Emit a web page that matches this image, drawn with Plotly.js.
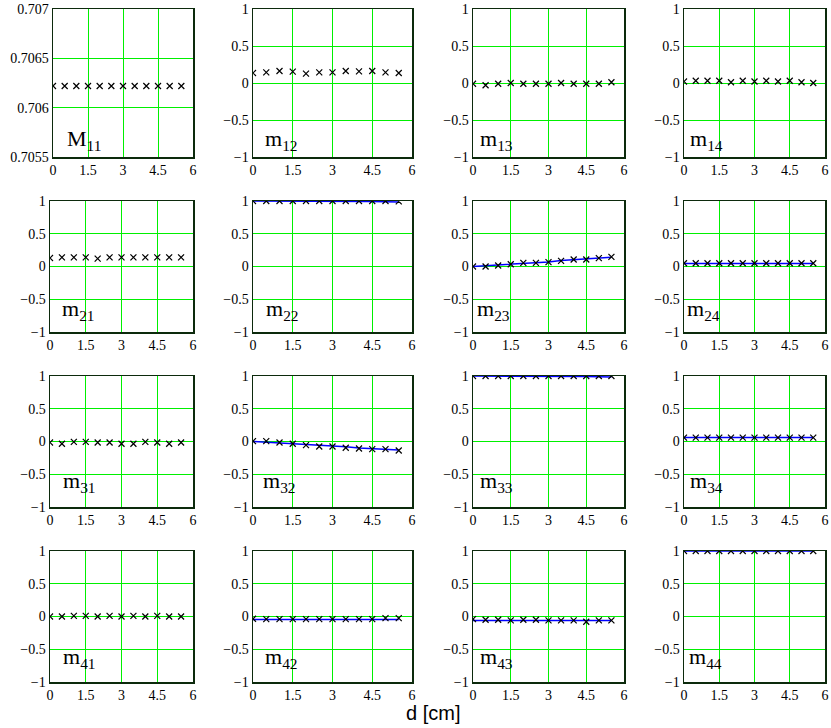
<!DOCTYPE html>
<html>
<head>
<meta charset="utf-8">
<script src="https://cdn.plot.ly/plotly-3.0.1.min.js"></script>
<style>html,body{margin:0;padding:0;background:#fff;}#chart{width:831px;height:728px;}</style>
</head>
<body>
<div id="chart"></div>
<script>
// ---------------- data ----------------
const dCm = [0, 0.5, 1, 1.5, 2, 2.5, 3, 3.5, 4, 4.5, 5, 5.5];

const M11 = [0.70622, 0.70622, 0.70622, 0.70622, 0.70622, 0.70622, 0.70622, 0.70622, 0.70622, 0.70622, 0.70622, 0.70622];
const m12 = [0.135, 0.144, 0.162, 0.153, 0.126, 0.144, 0.144, 0.162, 0.158, 0.162, 0.144, 0.135];
const m13 = [-0.01, -0.03, -0.01, 0.0, -0.01, -0.01, -0.01, 0.0, -0.01, -0.01, -0.01, 0.01];
const m14 = [0.02, 0.03, 0.03, 0.03, 0.01, 0.03, 0.02, 0.03, 0.02, 0.03, 0.01, 0.0];
const m21 = [0.13, 0.14, 0.14, 0.14, 0.12, 0.14, 0.14, 0.14, 0.14, 0.14, 0.14, 0.14];
const m22 = [1.0, 1.0, 1.0, 1.0, 1.0, 1.0, 1.0, 1.0, 1.0, 1.0, 1.0, 0.995];
const m23 = [0.0, 0.0, 0.015, 0.035, 0.056, 0.056, 0.066, 0.086, 0.107, 0.107, 0.127, 0.147];
const m24 = [0.05, 0.05, 0.05, 0.05, 0.05, 0.05, 0.05, 0.05, 0.05, 0.05, 0.05, 0.05];
const m31 = [-0.015, -0.035, -0.005, -0.005, -0.015, -0.015, -0.035, -0.035, -0.005, -0.015, -0.035, -0.015];
const m32 = [0.005, 0.005, -0.015, -0.035, -0.056, -0.076, -0.076, -0.096, -0.107, -0.117, -0.117, -0.137];
const m33 = [1.0, 1.0, 1.0, 1.0, 1.0, 1.0, 1.0, 1.0, 1.0, 1.0, 1.0, 1.0];
const m34 = [0.06, 0.06, 0.06, 0.06, 0.06, 0.06, 0.06, 0.06, 0.06, 0.06, 0.06, 0.06];
const m41 = [0.0, 0.0, 0.01, 0.01, 0.0, 0.01, 0.0, 0.01, 0.0, 0.01, 0.0, 0.0];
const m42 = [-0.035, -0.04, -0.04, -0.04, -0.04, -0.04, -0.04, -0.04, -0.04, -0.04, -0.025, -0.025];
const m43 = [-0.04, -0.05, -0.05, -0.06, -0.05, -0.05, -0.06, -0.06, -0.06, -0.08, -0.06, -0.06];
const m44 = [1.0, 1.0, 1.0, 1.0, 1.0, 1.0, 1.0, 1.0, 1.0, 1.0, 1.0, 1.0];

// model curves (blue lines)
const fit22 = [1.0, 1.0, 1.0, 1.0, 0.999, 0.998, 0.997, 0.995, 0.993, 0.991, 0.988, 0.985];
const fit23 = [0.0, 0.01, 0.02, 0.04, 0.05, 0.06, 0.07, 0.09, 0.10, 0.11, 0.12, 0.14];
const fit24 = [0.045, 0.045, 0.045, 0.045, 0.045, 0.045, 0.045, 0.045, 0.045, 0.045, 0.045, 0.045];
const fit32 = [0.0, -0.01, -0.02, -0.03, -0.05, -0.06, -0.07, -0.08, -0.10, -0.11, -0.12, -0.13];
const fit33 = [1.0, 1.0, 1.0, 1.0, 0.999, 0.998, 0.997, 0.995, 0.993, 0.991, 0.988, 0.985];
const fit34 = [0.06, 0.06, 0.06, 0.06, 0.06, 0.06, 0.06, 0.06, 0.06, 0.06, 0.06, 0.06];
const fit42 = [-0.045, -0.045, -0.045, -0.045, -0.045, -0.045, -0.045, -0.045, -0.045, -0.045, -0.045, -0.045];
const fit43 = [-0.06, -0.06, -0.06, -0.06, -0.06, -0.06, -0.06, -0.06, -0.06, -0.06, -0.06, -0.06];
const fit44 = [1.0, 1.0, 1.0, 1.0, 1.0, 1.0, 1.0, 1.0, 1.0, 1.0, 1.0, 1.0];

const panelNames = ['M11','m12','m13','m14','m21','m22','m23','m24','m31','m32','m33','m34','m41','m42','m43','m44'];
const panelData  = [M11,m12,m13,m14,m21,m22,m23,m24,m31,m32,m33,m34,m41,m42,m43,m44];
const panelFit   = [null,null,null,null,null,fit22,fit23,fit24,null,fit32,fit33,fit34,null,fit42,fit43,fit44];

const xTickVals = [0, 1.5, 3, 4.5, 6];
const xTickText = ['0', '1.5', '3', '4.5', '6'];
const yTickVals = [-1, -0.5, 0, 0.5, 1];
const yTickText = ['\u22121', '\u22120.5', '0', '0.5', '1'];
const y11TickVals = [0.7055, 0.706, 0.7065, 0.707];
const y11TickText = ['0.7055', '0.706', '0.7065', '0.707'];
const xLabel = 'd [cm]';

// ---------------- layout geometry (pixels) ----------------
const W = 831, H = 728;
const cols = [[53,193],[253,412],[473,624],[684,825]];
const colsLow = [[50,193],[253,412],[473,624],[684,825]];
const rows = [[9,157],[201,332],[376,507],[551,682]];
const labelDx = [14,12,7,6, 12,13,4,3, 13,10,7,6, 13,12,7,5];
const labelRise = [10,15,18,17];

const SERIF = '"Liberation Serif", "Times New Roman", serif';
const traces = [];
const layout = {
  width: W, height: H,
  margin: {l:0, r:0, t:0, b:0},
  paper_bgcolor: '#ffffff',
  plot_bgcolor: '#ffffff',
  showlegend: false,
  font: {family: SERIF, size: 13, color: '#000'},
  annotations: []
};

const tickFont = {family: SERIF, size: 14, color: '#000'};

for (let i = 0; i < 16; i++) {
  const r = Math.floor(i / 4), c = i % 4;
  const [l, rt] = (r === 0 ? cols : colsLow)[c];
  const [t, b] = rows[r];
  const sfx = i === 0 ? '' : String(i + 1);
  const xa = 'x' + sfx, ya = 'y' + sfx;
  layout['xaxis' + sfx] = {
    domain: [l / W, rt / W], anchor: ya, range: [0, 6],
    tickmode: 'array', tickvals: xTickVals, ticktext: xTickText,
    showgrid: true, gridcolor: '#00f000', gridwidth: 1, zeroline: false,
    showline: true, mirror: true, linecolor: '#0c2a0c', linewidth: 1.5,
    ticks: '', tickfont: tickFont, fixedrange: true
  };
  layout['yaxis' + sfx] = {
    domain: [1 - b / H, 1 - t / H], anchor: xa,
    range: i === 0 ? [0.7055, 0.707] : [-1, 1],
    tickmode: 'array',
    tickvals: i === 0 ? y11TickVals : yTickVals,
    ticktext: i === 0 ? y11TickText : yTickText,
    showgrid: true, gridcolor: '#00f000', gridwidth: 1, zeroline: false,
    showline: true, mirror: true, linecolor: '#0c2a0c', linewidth: 1.5,
    ticks: '', tickfont: tickFont, fixedrange: true
  };
  if (panelFit[i]) {
    traces.push({x: dCm, y: panelFit[i], xaxis: xa, yaxis: ya, type: 'scatter', mode: 'lines',
      line: {color: '#0000ff', width: 1.5}, hoverinfo: 'skip'});
  }
  traces.push({x: dCm, y: panelData[i], xaxis: xa, yaxis: ya, type: 'scatter', mode: 'markers',
    marker: {symbol: 'x-thin', size: 6, color: '#000', line: {color: '#000', width: 1.2}}});

  const name = panelNames[i];
  layout.annotations.push({
    xref: 'paper', yref: 'paper',
    x: (l + labelDx[i] - 2) / W, xanchor: 'left',
    y: 1 - (b - labelRise[r] + 9) / H, yanchor: 'bottom',
    text: name[0] + '<sub>' + name.slice(1) + '</sub>',
    showarrow: false,
    font: {family: SERIF, size: 22, color: '#000'}
  });
}

layout.annotations.push({
  xref: 'paper', yref: 'paper', x: 433 / W, y: 1 - 713 / H,
  xanchor: 'center', yanchor: 'middle', text: xLabel, showarrow: false,
  font: {family: '"Liberation Sans", Arial, sans-serif', size: 20, color: '#000'}
});

Plotly.newPlot('chart', traces, layout, {displayModeBar: false, staticPlot: true});
</script>
</body>
</html>
